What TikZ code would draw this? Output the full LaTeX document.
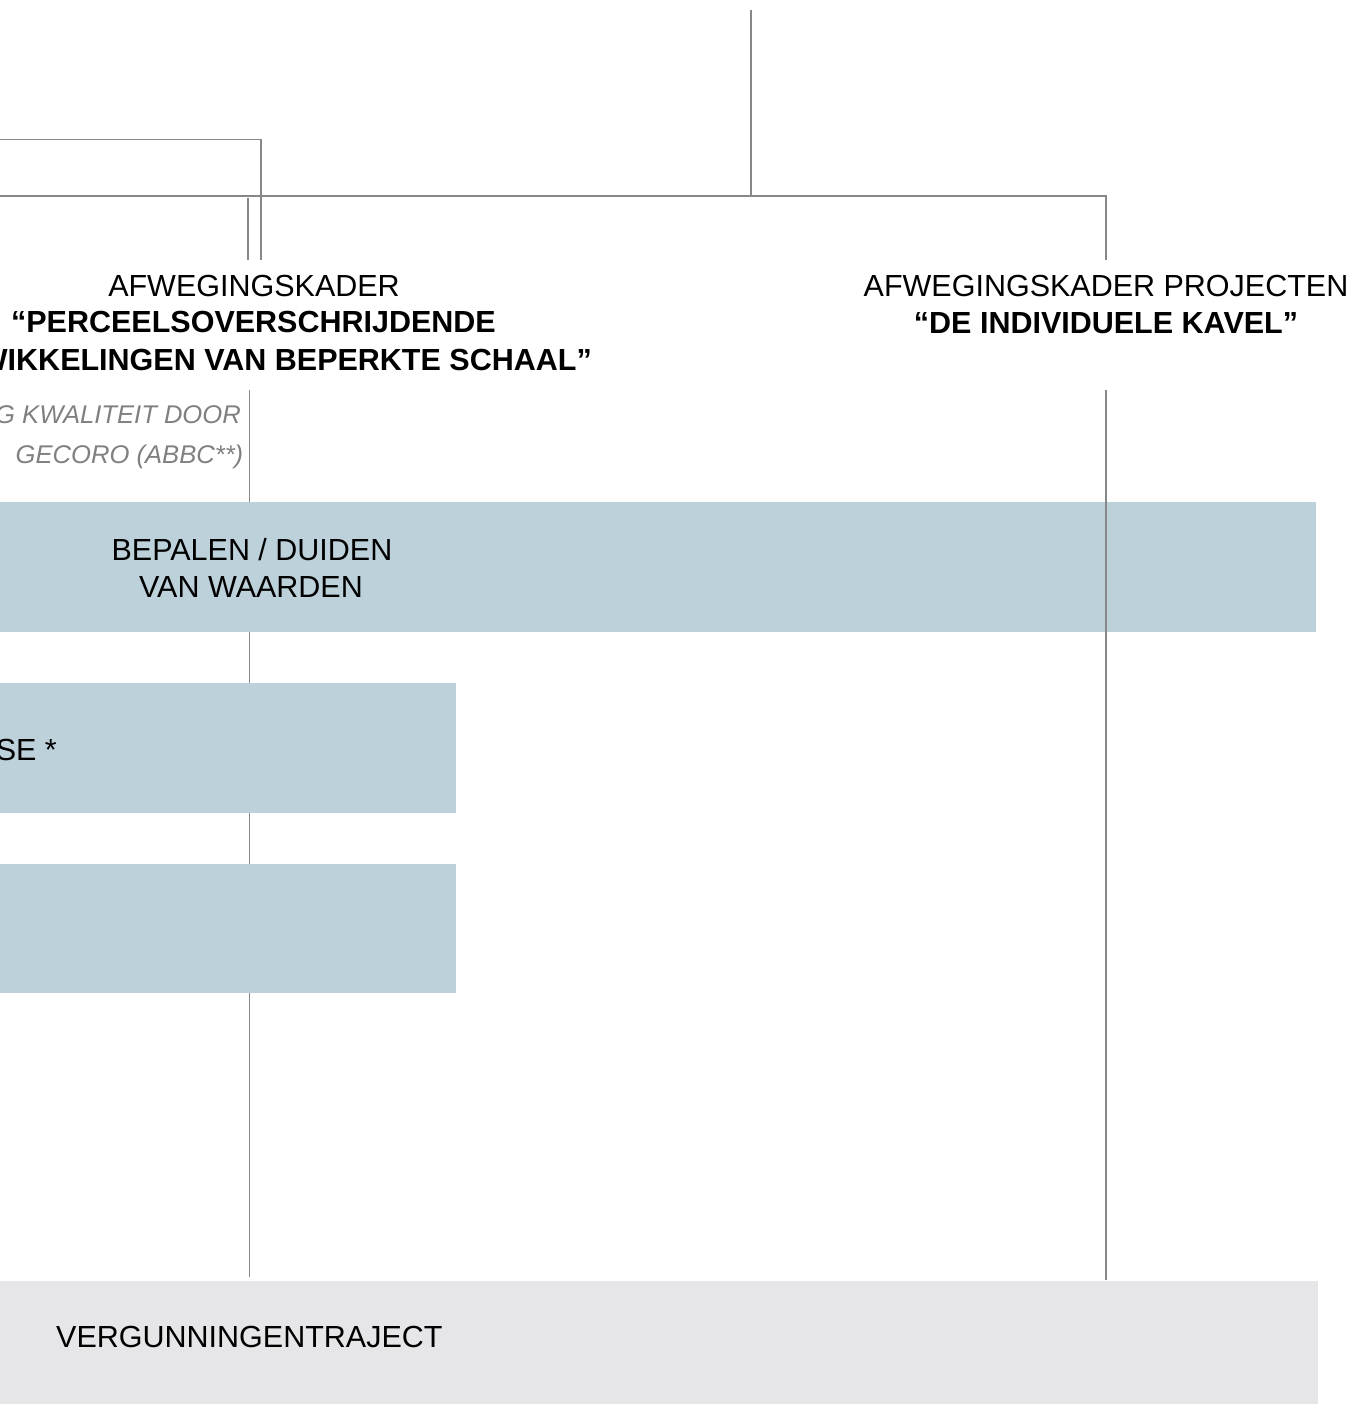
\documentclass[tikz,border=0pt]{standalone}
\usepackage{fontspec}
\setmainfont{Liberation Sans}
\definecolor{linegray}{HTML}{878787}
\definecolor{boxblue}{HTML}{BDD1DA}
\definecolor{boxgray}{HTML}{E6E6E8}
\definecolor{notegray}{HTML}{808080}
\begin{document}
\begin{tikzpicture}[x=1pt,y=-1pt,
  conn/.style={draw=linegray,line width=1.7pt},
  bandblue/.style={fill=boxblue,draw=none},
  bandgray/.style={fill=boxgray,draw=none},
  headtxt/.style={font=\fontsize{30.5}{36.5}\selectfont,inner sep=0pt,anchor=base},
  headbold/.style={font=\fontsize{30.5}{36.5}\selectfont\bfseries,inner sep=0pt,anchor=base},
  notetxt/.style={font=\fontsize{25.6}{30}\selectfont\itshape,text=notegray,inner sep=0pt,anchor=base east},
  boxtxt/.style={font=\fontsize{30.5}{36.5}\selectfont,inner sep=0pt,anchor=base}]
\useasboundingbox (0,0) rectangle (1356,1404);
\clip (0,0) rectangle (1356,1404);

% coordinates of the tree
\coordinate (top) at (751,10);
\coordinate (topj) at (751,196);
\coordinate (hl) at (0,196);
\coordinate (hr) at (1106,196);
\coordinate (rdown) at (1106,260);
\coordinate (ml) at (0,139.5);
\coordinate (mr) at (261,139.5);
\coordinate (mdown) at (261,260);
\coordinate (ltop) at (248,198);
\coordinate (ldown) at (248,260);
\coordinate (lcol1) at (249.5,390);
\coordinate (lcol2) at (249.5,1277);
\coordinate (rcol1) at (1106,390);
\coordinate (rcol2) at (1106,1280);

% connectors (behind boxes)
\draw[conn] (top) -- (topj);
\draw[conn] (hl) -- (hr) -- (rdown);
\draw[conn] (ml) -- (mr) -- (mdown);
\draw[conn] (ltop) -- (ldown);
\draw[conn] (lcol1) -- (lcol2);

% boxes
\fill[bandblue] (0,502) rectangle (1316,632);
\fill[bandblue] (0,683) rectangle (456,812.7);
\fill[bandblue] (0,864) rectangle (456,993.3);
\fill[bandgray] (0,1281) rectangle (1318,1404);

\draw[conn] (rcol1) -- (rcol2);

% headings
\node[headtxt] (hA1) at (254,296.7) {AFWEGINGSKADER};
\node[headbold] (hA2) at (253.5,332.5) {“PERCEELSOVERSCHRIJDENDE};
\node[headbold,anchor=base east] (hA3) at (592,370) {WIKKELINGEN VAN BEPERKTE SCHAAL”};

\node[headtxt] (hB1) at (1106,296.7) {AFWEGINGSKADER PROJECTEN};
\node[headbold] (hB2) at (1106,334) {“DE INDIVIDUELE KAVEL”};

\node[notetxt] (n1) at (241,423.3) {G KWALITEIT DOOR};
\node[notetxt] (n2) at (243.5,463.3) {GECORO (ABBC**)};

% box texts
\node[boxtxt] (b1a) at (252,560) {BEPALEN / DUIDEN};
\node[boxtxt] (b1b) at (251,597) {VAN WAARDEN};
\node[boxtxt,anchor=base east] (b2) at (57,760) {SE *};
\node[boxtxt,anchor=base west] (b4) at (56,1347) {VERGUNNINGENTRAJECT};
\end{tikzpicture}
\end{document}
